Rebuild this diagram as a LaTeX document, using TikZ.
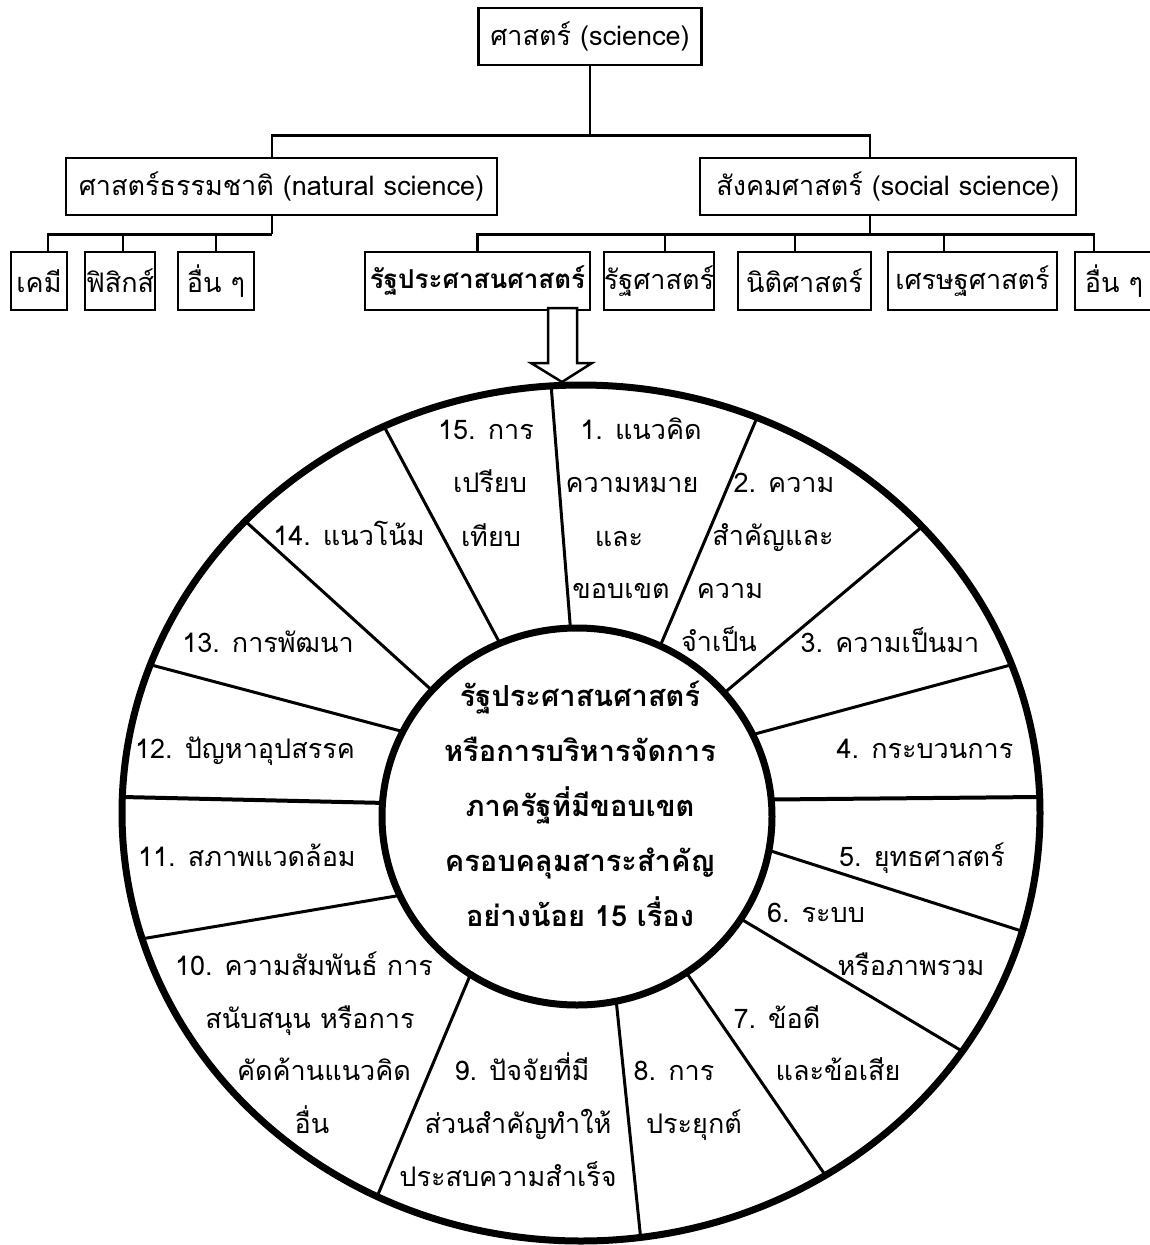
\documentclass[tikz,border=0pt]{standalone}
\usepackage{fontspec}
\setmainfont[Script=Thai]{Loma}
\usepackage{tikz}
\usetikzlibrary{shapes.geometric, positioning}
\tikzstyle{field} = [rectangle, draw=black, line width=2.5pt, minimum height=57pt, inner sep=0pt, text centered]
\tikzstyle{branch} = [line width=2.5pt]
\tikzstyle{ring} = [ellipse, draw=black, line width=7pt, inner sep=0pt, outer sep=0pt]
\tikzstyle{topic} = [inner sep=0pt, anchor=base]
\tikzset{every node/.style={font=\fontsize{27pt}{32pt}\selectfont}}

\begin{document}
\begin{tikzpicture}[x=1pt, y=-1pt]
    \useasboundingbox (0,0) rectangle (1149,1245);

    % tree of sciences
    \node (sci)  [field, minimum width=223pt] at (590,36.5) {ศาสตร์ (science)};
    \node (nat)  [field, minimum width=431pt] at (281.5,186.5) {ศาสตร์ธรรมชาติ (natural science)};
    \node (soc)  [field, minimum width=376pt] at (888,186.5) {สังคมศาสตร์ (social science)};
    \node (chem) [field, minimum width=56pt, minimum height=58pt] at (39,281) {เคมี};
    \node (phys) [field, minimum width=70pt, minimum height=58pt] at (120,281) {ฟิสิกส์};
    \node (etc1) [field, minimum width=76pt, minimum height=58pt] at (216,281) {อื่น ๆ};
    \node (rpa)  [field, minimum width=225pt, minimum height=58pt, font=\bfseries\fontsize{26pt}{32pt}\selectfont] at (477.5,281) {รัฐประศาสนศาสตร์};
    \node (pol)  [field, minimum width=102pt, minimum height=58pt] at (659,281) {รัฐศาสตร์};
    \node (law)  [field, minimum width=133pt, minimum height=58pt] at (804.5,281) {นิติศาสตร์};
    \node (econ) [field, minimum width=169pt, minimum height=58pt] at (972.5,281) {เศรษฐศาสตร์};
    \node (etc2) [field, minimum width=78pt, minimum height=58pt] at (1114,281) {อื่น ๆ};

    \draw [branch] (sci.south) -- ++(0,69) coordinate (hub);
    \draw [branch] ([xshift=-9.5pt]nat.north) |- (hub) -| ([xshift=-18pt]soc.north);
    \draw [branch] ([xshift=-9.5pt]nat.south) -- ++(0,18) coordinate (natj);
    \draw [branch] ([xshift=9pt]chem.north) |- (natj);
    \draw [branch] ([xshift=3pt]phys.north) |- (natj);
    \draw [branch] (etc1.north) |- (natj);
    \draw [branch] ([xshift=-18pt]soc.south) -- ++(0,18) coordinate (socj);
    \draw [branch] (rpa.north) |- (socj);
    \draw [branch] ([xshift=6pt]pol.north) |- (socj);
    \draw [branch] ([xshift=-9.5pt]law.north) |- (socj);
    \draw [branch] ([xshift=-20pt]etc2.north) |- (socj);
    \draw [branch] ([xshift=-28.5pt]econ.north) |- (socj);

    % wheel of 15 topics
    \node (wheel) [ring, minimum width=918pt, minimum height=856pt] at (581,813) {};
    \node (core)  [ring, minimum width=390pt, minimum height=377pt] at (577,816.5) {};
    \foreach \a/\b/\w in {92.9/94.9/3, 64.3/66.6/3, 40.2/40.6/3, 25.0/19.4/3, 5.74/2.0/4,
                          -10.7/-15.6/3, -32.0/-32.9/3, -55.3/-56.2/3, -78.3/-82.5/3, 236.7/242.5/3,
                          204.8/196.9/3, 176.3/178.9/4, 154.2/161.0/3, 139.1/139.6/3, 114.4/117.6/3}
        \draw [line width=\w pt] (core.\a) -- (wheel.\b);

    % hollow arrow
    \coordinate (tip) at (562,382);
    \draw [branch, fill=white, line join=miter] (tip) -- ++(-31,-19) -- ++(17,0) -- ++(0,-55)
        -- ++(29,0) -- ++(0,55) -- ++(15,0) -- cycle;

    \node (gist) [font=\bfseries\fontsize{29pt}{55pt}\selectfont, align=center, inner sep=0pt] at (580,804)
        {รัฐประศาสนศาสตร์\\หรือการบริหารจัดการ\\ภาครัฐที่มีขอบเขต\\ครอบคลุมสาระสำคัญ\\อย่างน้อย 15 เรื่อง};

    \foreach \x/\y/\t [count=\i] in {
        486/430/{15. การ}, 490/483/{เปรียบ}, 491/537/{เทียบ},
        641/430/{1. แนวคิด}, 632/483/{ความหมาย}, 619/537/{และ}, 621/589/{ขอบเขต},
        784/483/{2. ความ}, 773/536/{สำคัญและ}, 730/589/{ความ}, 719/642/{จำเป็น},
        349/536/{14. แนวโน้ม}, 268/643/{13. การพัฒนา}, 890/643/{3. ความเป็นมา},
        245/749/{12. ปัญหาอุปสรรค}, 925/749/{4. กระบวนการ},
        247/857/{11. สภาพแวดล้อม}, 922/857/{5. ยุทธศาสตร์},
        816/913/{6. ระบบ}, 911/966/{หรือภาพรวม},
        304/966/{10. ความสัมพันธ์ การ}, 310/1019/{สนับสนุน หรือการ}, 324/1071/{คัดค้านแนวคิด}, 312/1124/{อื่น},
        777/1019/{7. ข้อดี}, 838/1071/{และข้อเสีย},
        522/1071/{9. ปัจจัยที่มี}, 518/1124/{ส่วนสำคัญทำให้}, 508/1177/{ประสบความสำเร็จ},
        674/1071/{8. การ}, 694/1124/{ประยุกต์}}
        \node (t\i) [topic] at (\x,\y+9) {\t};
\end{tikzpicture}
\end{document}
